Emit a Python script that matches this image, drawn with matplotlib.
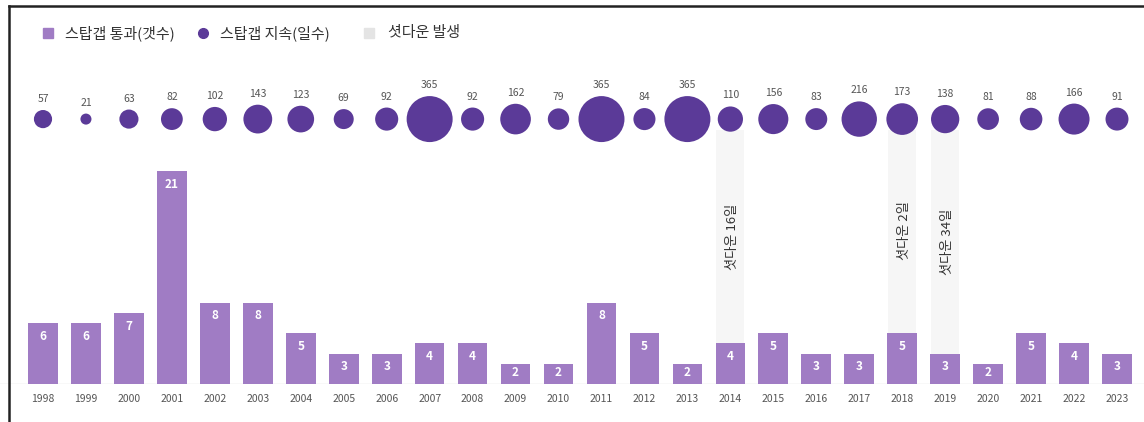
import numpy as np
import matplotlib
matplotlib.use("Agg")
import matplotlib.pyplot as plt
from matplotlib.lines import Line2D

plt.rcParams['font.family'] = ['Noto Sans CJK KR', 'DejaVu Sans']

years = list(range(1998, 2024))
passed = [6, 6, 7, 21, 8, 8, 5, 3, 3, 4, 4, 2, 2, 8, 5, 2, 4, 5, 3, 3, 5, 3, 2, 5, 4, 3]
days = [57, 21, 63, 82, 102, 143, 123, 69, 92, 365, 92, 162, 79, 365, 84, 365,
        110, 156, 83, 216, 173, 138, 81, 88, 166, 91]
shutdown_years = [2014, 2018, 2019]
shutdown_labels = ["셧다운 16일", "셧다운 2일", "셧다운 34일"]

BAR = "#a07cc4"
BUBBLE = "#5b3a98"
BAND = "#f6f6f6"

W, H = 1144, 422
fig = plt.figure(figsize=(W / 100, H / 100), dpi=100)

# axes: baseline at 384px from top, 10.15 px per unit
px_unit = 10.15
base_px = 38
ax = fig.add_axes([0, base_px / H, 1, 1 - base_px / H])
step = 42.96
ax.set_xlim(-43 / step, (W - 43) / step)
ax.set_ylim(0, (H - base_px) / px_unit)
ax.axis("off")

x = np.arange(len(years))

# shutdown bands
for yr, lab, ty in zip(shutdown_years, shutdown_labels, [14.5, 15.1, 14.0]):
    i = years.index(yr)
    ax.bar(i, 25.0, width=0.65, color=BAND, zorder=0)
    ax.text(i + 0.05, ty, lab, rotation=90, ha="center", va="center",
            fontsize=9.5, color="#333333")

# bars
ax.bar(x, passed, width=0.69, color=BAR, zorder=2)
for i, v in enumerate(passed):
    ax.text(i, v - min(1.3, v / 2 - 0.1), str(v), ha="center", va="center",
            color="white", fontsize=8.5, fontweight="bold", zorder=3)

# baseline
ax.axhline(0, color="#dcdcdc", lw=1, zorder=1)
for i, yr in enumerate(years):
    ax.text(i, -1.45, str(yr), ha="center", va="center", fontsize=7.5,
            color="#555555")

# bubbles
bub_y = 26.1
d_max = 46  # px diameter for 365
diam = d_max * np.sqrt(np.array(days) / 365)
ax.scatter(x, [bub_y] * len(x), s=(diam * 0.72) ** 2, color=BUBBLE, zorder=3,
           linewidths=0)
for i, (v, d) in enumerate(zip(days, diam)):
    ax.text(i, bub_y + (d / 2 + 11) / px_unit, str(v), ha="center",
            va="center", fontsize=7.5, color="#555555")

# legend (manual)
def fy(py):
    return 1 - py / H

def fx(px):
    return px / W

fig.add_artist(plt.Rectangle((fx(43), fy(38)), 10 / W, 10 / H,
                             transform=fig.transFigure, color=BAR))
fig.text(fx(65), fy(33), "스탑갭 통과(갯수)", va="center", fontsize=10.8, color="#333333")
fig.add_artist(Line2D([fx(203)], [fy(33)], marker="o", markersize=7,
                      color=BUBBLE, transform=fig.transFigure))
fig.text(fx(220), fy(33), "스탑갭 지속(일수)", va="center", fontsize=10.8, color="#333333")
fig.add_artist(plt.Rectangle((fx(364), fy(38)), 10 / W, 10 / H,
                             transform=fig.transFigure, color="#e4e4e4"))
fig.text(fx(388), fy(33), "셧다운 발생", va="center", fontsize=10.8, color="#333333")

# screenshot frame (left and top)
fig.add_artist(Line2D([fx(9), fx(9)], [0, fy(6)], color="#222222", lw=1.8,
                      transform=fig.transFigure))
fig.add_artist(Line2D([fx(9), 1], [fy(6), fy(6)], color="#222222", lw=1.8,
                      transform=fig.transFigure))

fig.savefig("out.png", dpi=100)
